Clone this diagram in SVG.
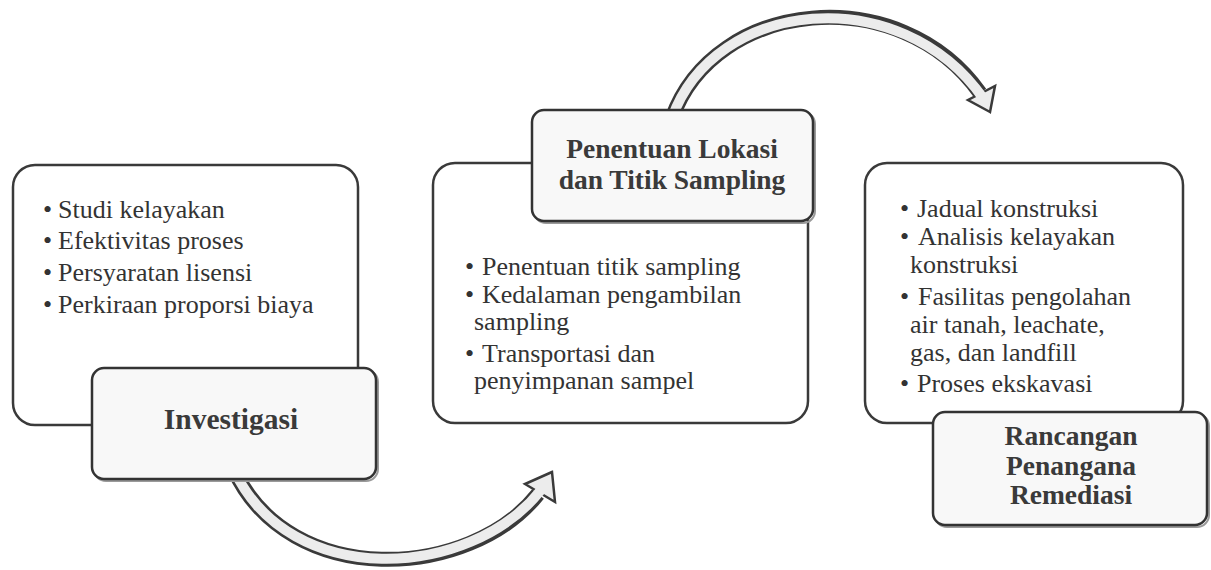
<svg xmlns="http://www.w3.org/2000/svg" width="1211" height="570" viewBox="0 0 1211 570">
<style>
.box{fill:#ffffff;stroke:#3a3a3a;stroke-width:2.5}
.lbl{fill:#f8f8f8;stroke:#333333;stroke-width:2.5}
.shd{fill:none;stroke:#9a9a9a;stroke-width:2}
.t{font-family:"Liberation Serif","Times New Roman",serif;font-size:26px;fill:#333333}
.h{font-family:"Liberation Serif","Times New Roman",serif;font-size:27.5px;font-weight:bold;fill:#3a3a3a;text-anchor:middle}
.so{fill:none;stroke:#3a3a3a;stroke-width:15}
.si{fill:none;stroke:#ececec;stroke-width:10}
.hd{fill:#ececec;stroke:#3a3a3a;stroke-width:2.5;stroke-linejoin:miter}
</style>
<rect width="1211" height="570" fill="#ffffff"/>
<g id="connectors">
  <g id="arrow-bottom">
    <path class="so" d="M 234 470 C 290 590, 470 580, 538 494"/>
    <polygon class="hd" points="552,472 525,484 555,502"/>
    <path class="si" d="M 234 470 C 290 590, 470 580, 541 490"/>
  </g>
  <g id="arrow-top">
    <path class="so" d="M 672 118 C 715 -2, 900 -20, 980 93"/>
    <polygon class="hd" points="990,112 968,100 995,86"/>
    <path class="si" d="M 672 118 C 715 -2, 900 -20, 983 98"/>
  </g>
</g>
<g id="node-investigasi-list">
  <rect class="box" x="13" y="165" width="345" height="260" rx="22"/>
  <text class="t" x="43" y="218">•</text><text class="t" x="58" y="218">Studi kelayakan</text>
  <text class="t" x="43" y="249">•</text><text class="t" x="58" y="249">Efektivitas proses</text>
  <text class="t" x="43" y="281">•</text><text class="t" x="58" y="281">Persyaratan lisensi</text>
  <text class="t" x="43" y="313">•</text><text class="t" x="58" y="313">Perkiraan proporsi biaya</text>
</g>
<g id="node-investigasi">
  <rect class="shd" x="94" y="370" width="284" height="111" rx="12"/>
  <rect class="lbl" x="92" y="368" width="284" height="111" rx="12"/>
  <text class="h" x="231" y="429" style="font-size:29.5px">Investigasi</text>
</g>
<g id="node-sampling-list">
  <rect class="box" x="433" y="163" width="375" height="260" rx="22"/>
  <text class="t" x="465" y="275">•</text><text class="t" x="482" y="275">Penentuan titik sampling</text>
  <text class="t" x="465" y="303">•</text><text class="t" x="482" y="303">Kedalaman pengambilan</text>
  <text class="t" x="474" y="330">sampling</text>
  <text class="t" x="465" y="362">•</text><text class="t" x="482" y="362">Transportasi dan</text>
  <text class="t" x="474" y="389">penyimpanan sampel</text>
</g>
<g id="node-sampling">
  <rect class="shd" x="534" y="112" width="281" height="111" rx="12"/>
  <rect class="lbl" x="532" y="110" width="281" height="111" rx="12"/>
  <text class="h" x="672" y="158">Penentuan Lokasi</text>
  <text class="h" x="672" y="189">dan Titik Sampling</text>
</g>
<g id="node-remediasi-list">
  <rect class="box" x="865" y="163" width="318" height="260" rx="22"/>
  <text class="t" x="900" y="217">•</text><text class="t" x="917" y="217">Jadual konstruksi</text>
  <text class="t" x="900" y="245">•</text><text class="t" x="918" y="245">Analisis kelayakan</text>
  <text class="t" x="910" y="273">konstruksi</text>
  <text class="t" x="900" y="305">•</text><text class="t" x="918" y="305">Fasilitas pengolahan</text>
  <text class="t" x="910" y="333">air tanah, leachate,</text>
  <text class="t" x="910" y="361">gas, dan landfill</text>
  <text class="t" x="900" y="392">•</text><text class="t" x="917" y="392">Proses ekskavasi</text>
</g>
<g id="node-remediasi">
  <rect class="shd" x="935" y="414" width="274" height="113" rx="12"/>
  <rect class="lbl" x="933" y="412" width="274" height="113" rx="12"/>
  <text class="h" x="1071" y="445">Rancangan</text>
  <text class="h" x="1071" y="475">Penangana</text>
  <text class="h" x="1071" y="504">Remediasi</text>
</g>
</svg>
